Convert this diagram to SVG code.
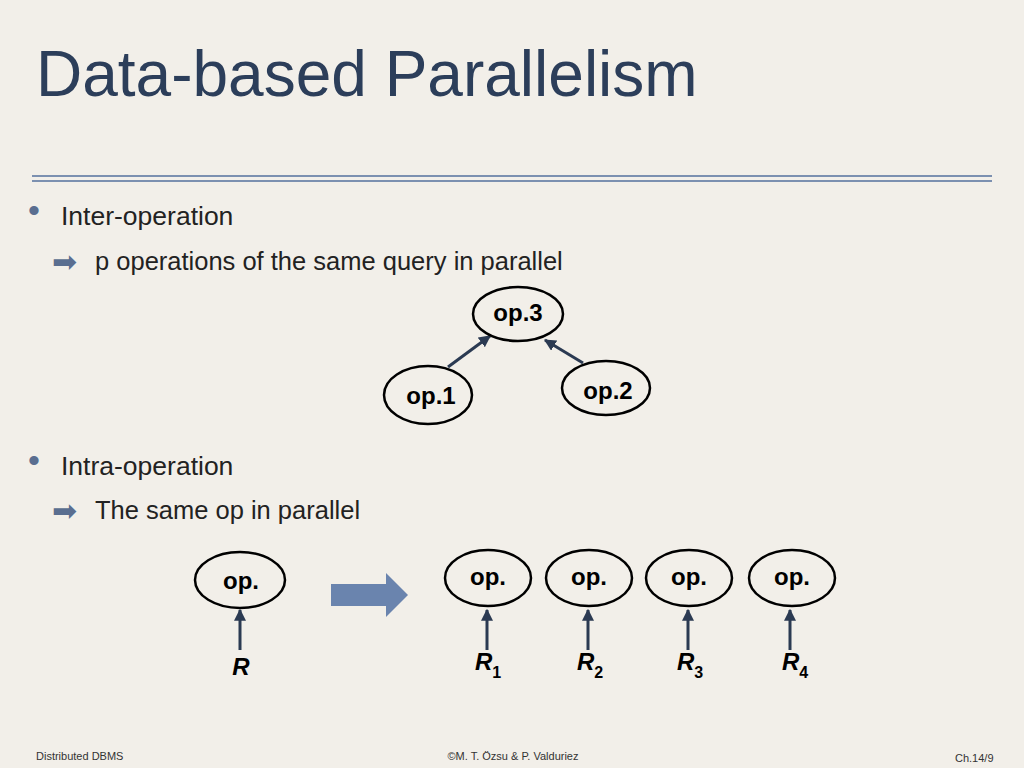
<svg xmlns="http://www.w3.org/2000/svg" width="1024" height="768" viewBox="0 0 1024 768">
<defs>
<marker id="ah" viewBox="0 0 10 10" refX="9" refY="5" markerWidth="4" markerHeight="4" orient="auto"><path d="M0,0L10,5L0,10z" fill="#2b3a52"/></marker>
<style>
.n{fill:none;stroke:#000;stroke-width:2.5}
.nt{font-family:"Liberation Sans",Arial,sans-serif;font-weight:bold;font-size:24px;text-anchor:middle}
.r{font-family:"Liberation Sans",Arial,sans-serif;font-weight:bold;font-style:italic;font-size:24px;text-anchor:middle}
.c{stroke:#2b3a52;stroke-width:3;fill:none;marker-end:url(#ah)}
.b{font-family:"Liberation Sans",Arial,sans-serif;font-size:26.5px;fill:#222}
.s{font-family:"Liberation Sans",Arial,sans-serif;font-size:25.5px;fill:#222}
.a{font-family:"DejaVu Sans",sans-serif;font-size:30px;fill:#5a6e90}
.f{font-family:"Liberation Sans",Arial,sans-serif;font-size:11px;fill:#333}
</style>
</defs>
<rect width="1024" height="768" fill="#f2efe9"/>
<text x="36" y="96" font-family="Liberation Sans,Arial,sans-serif" font-size="64" fill="#2c3e5a">Data-based Parallelism</text>
<line x1="32" y1="176" x2="992" y2="176" stroke="#7c90b0" stroke-width="2"/>
<line x1="32" y1="181" x2="992" y2="181" stroke="#7c90b0" stroke-width="2"/>
<text x="28" y="222" font-family="Liberation Sans,Arial,sans-serif" font-size="34" fill="#5a6e90">•</text>
<text x="61" y="225" class="b">Inter-operation</text>
<text x="52" y="272" class="a">➡</text>
<text x="95" y="270" class="s">p operations of the same query in parallel</text>
<text x="28" y="472" font-family="Liberation Sans,Arial,sans-serif" font-size="34" fill="#5a6e90">•</text>
<text x="61" y="475" class="b">Intra-operation</text>
<text x="52" y="521" class="a">➡</text>
<text x="95" y="519" class="s">The same op in parallel</text>
<g id="connectors">
<line class="c" x1="448" y1="367" x2="490" y2="336"/>
<line class="c" x1="583" y1="363" x2="545" y2="340"/>
<line class="c" x1="240" y1="650" x2="240" y2="610"/>
<line class="c" x1="487" y1="650" x2="487" y2="610"/>
<line class="c" x1="588" y1="650" x2="588" y2="610"/>
<line class="c" x1="688" y1="650" x2="688" y2="610"/>
<line class="c" x1="790" y1="650" x2="790" y2="610"/>
</g>
<g id="op3"><ellipse class="n" cx="518" cy="314" rx="45" ry="27"/><text class="nt" x="518" y="321">op.3</text></g>
<g id="op1"><ellipse class="n" cx="428" cy="395" rx="44" ry="29"/><text class="nt" x="431" y="404">op.1</text></g>
<g id="op2"><ellipse class="n" cx="606" cy="388" rx="44" ry="27"/><text class="nt" x="608" y="399">op.2</text></g>
<g id="opR"><ellipse class="n" cx="240" cy="580" rx="45" ry="28"/><text class="nt" x="241" y="589">op.</text></g>
<g id="bigarrow"><path d="M331,584H386V573L408,595L386,617V606H331z" fill="#6a84ae"/></g>
<g id="op_1"><ellipse class="n" cx="488" cy="578" rx="43" ry="28"/><text class="nt" x="488" y="585">op.</text></g>
<g id="op_2"><ellipse class="n" cx="589" cy="578" rx="43" ry="28"/><text class="nt" x="589" y="585">op.</text></g>
<g id="op_3"><ellipse class="n" cx="689" cy="578" rx="43" ry="28"/><text class="nt" x="689" y="585">op.</text></g>
<g id="op_4"><ellipse class="n" cx="792" cy="578" rx="43" ry="28"/><text class="nt" x="792" y="585">op.</text></g>
<text class="r" x="241" y="675">R</text>
<text class="r" x="488" y="670">R<tspan font-size="16" font-style="normal" dy="8">1</tspan></text>
<text class="r" x="590" y="670">R<tspan font-size="16" font-style="normal" dy="8">2</tspan></text>
<text class="r" x="690" y="670">R<tspan font-size="16" font-style="normal" dy="8">3</tspan></text>
<text class="r" x="795" y="670">R<tspan font-size="16" font-style="normal" dy="8">4</tspan></text>
<text class="f" x="36" y="760">Distributed DBMS</text>
<text class="f" x="513" y="760" text-anchor="middle">©M. T. Özsu &amp; P. Valduriez</text>
<text class="f" x="955" y="762">Ch.14/9</text>
</svg>
